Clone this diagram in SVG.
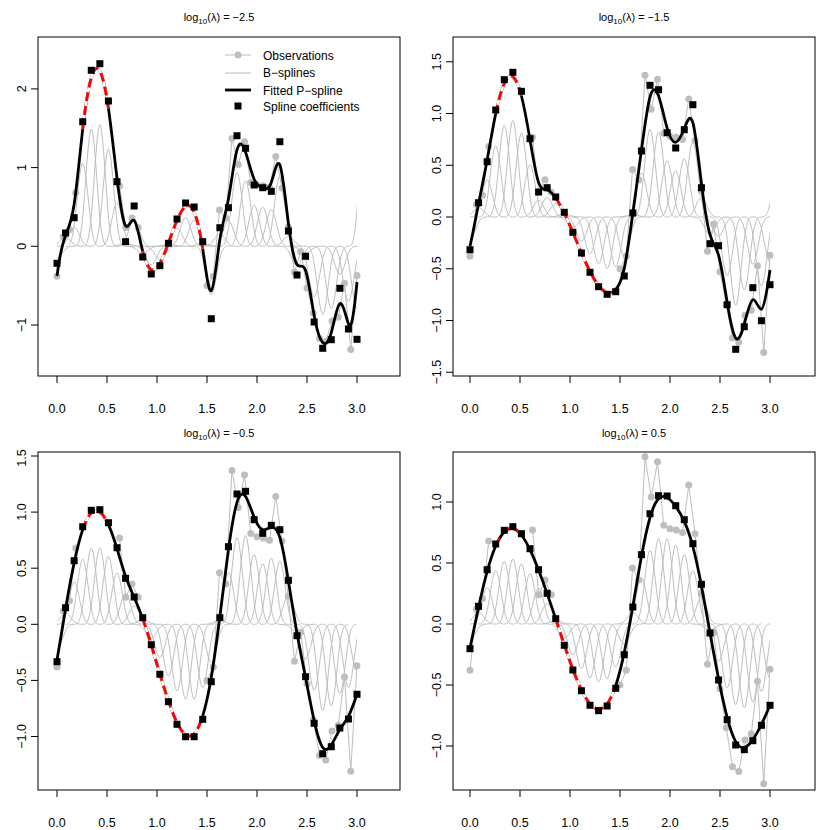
<svg xmlns="http://www.w3.org/2000/svg" xmlns:xlink="http://www.w3.org/1999/xlink" width="830" height="830" viewBox="0 0 830 830">
<style>
text{font-family:"Liberation Sans",Arial,sans-serif;fill:#000}
.tk{font-size:12.5px}
.ti{font-size:11px}
.lg{font-size:12px}
.fr{fill:none;stroke:#000;stroke-width:1}
.bs{fill:none;stroke:#bebebe;stroke-width:1;vector-effect:non-scaling-stroke}
.fit{fill:none;stroke:#000;stroke-width:2.8;stroke-linejoin:round;vector-effect:non-scaling-stroke}
.wh{fill:none;stroke:#fff;stroke-width:2.8;stroke-linejoin:round;vector-effect:non-scaling-stroke}
.red{fill:none;stroke:#f00;stroke-width:2.8;stroke-dasharray:9 5;vector-effect:non-scaling-stroke}
.ol{fill:none;stroke:#bebebe;stroke-width:1;vector-effect:non-scaling-stroke}
.od{fill:none;stroke:#bebebe;stroke-width:7;stroke-linecap:round;vector-effect:non-scaling-stroke}
</style>
<defs>
<path id="b" class="bs" d="M-2,0 C-1.667,0 -1.333,0 -1,0.1667 C-0.667,0.3333 -0.333,0.6667 0,0.6667 C0.333,0.6667 0.667,0.3333 1,0.1667 C1.333,0 1.667,0 2,0"/>
<rect id="s" x="-0.408" y="-3.5" width="0.817" height="7" fill="#000"/>
<clipPath id="c"><rect x="0" y="0" width="35" height="830"/></clipPath>
<path id="obsL" class="ol" d="M0,-0.38 L0.0625,0.12 L0.125,0.21 L0.1875,0.68 M0.625,0.77 L0.6875,0.24 L0.75,0.36 L0.8125,0.24 M1.5,-0.5 L1.5625,-0.38 L1.625,0.46 L1.6875,0.36 L1.75,1.37 L1.8125,1.04 L1.875,1.33 L1.9375,0.81 L2,0.78 L2.0625,0.77 L2.125,0.75 L2.1875,1.14 L2.25,0.74 L2.3125,0.25 L2.375,-0.33 L2.4375,-0.07 L2.5,-0.53 L2.5625,-0.85 L2.625,-1.17 L2.6875,-1.21 L2.75,-0.95 L2.8125,-0.9 L2.875,-0.47 L2.9375,-1.31 L3,-0.37"/>
<path id="obsD" class="od" d="M0,-0.38h0 M0.0625,0.12h0 M0.125,0.21h0 M0.1875,0.68h0 M0.625,0.77h0 M0.6875,0.24h0 M0.75,0.36h0 M0.8125,0.24h0 M1.5,-0.5h0 M1.5625,-0.38h0 M1.625,0.46h0 M1.6875,0.36h0 M1.75,1.37h0 M1.8125,1.04h0 M1.875,1.33h0 M1.9375,0.81h0 M2,0.78h0 M2.0625,0.77h0 M2.125,0.75h0 M2.1875,1.14h0 M2.25,0.74h0 M2.3125,0.25h0 M2.375,-0.33h0 M2.4375,-0.07h0 M2.5,-0.53h0 M2.5625,-0.85h0 M2.625,-1.17h0 M2.6875,-1.21h0 M2.75,-0.95h0 M2.8125,-0.9h0 M2.875,-0.47h0 M2.9375,-1.31h0 M3,-0.37h0"/>
</defs>

<g id="panel1">
<rect class="fr" x="38" y="37" width="362" height="339"/>
<text class="ti" x="219" y="21" text-anchor="middle">log<tspan font-size="8" dy="3">10</tspan><tspan dy="-3">(λ) = −2.5</tspan></text>
<path class="fr" d="M57,376v7M107,376v7M157,376v7M207,376v7M257,376v7M307,376v7M357,376v7M38,88.9h-7M38,167.6h-7M38,246.3h-7M38,325h-7"/>
<g class="tk" text-anchor="middle"><text x="57" y="413">0.0</text><text x="107" y="413">0.5</text><text x="157" y="413">1.0</text><text x="207" y="413">1.5</text><text x="257" y="413">2.0</text><text x="307" y="413">2.5</text><text x="357" y="413">3.0</text>
<text transform="translate(26,88.9) rotate(-90)">2</text><text transform="translate(26,167.6) rotate(-90)">1</text><text transform="translate(26,246.3) rotate(-90)">0</text><text transform="translate(26,325) rotate(-90)">−1</text></g>
<use href="#obsL" transform="translate(57,246.3) scale(100,-78.7)"/>
<use href="#obsD" transform="translate(57,246.3) scale(100,-78.7)"/>
<g transform="translate(57,0) scale(8.5714,1)">
<g clip-path="url(#c)">
<use href="#b" transform="translate(0,246.3) scale(1,17)"/><use href="#b" transform="translate(1,246.3) scale(1,-13.3)"/><use href="#b" transform="translate(2,246.3) scale(1,-28.6)"/><use href="#b" transform="translate(3,246.3) scale(1,-124.6)"/><use href="#b" transform="translate(4,246.3) scale(1,-176)"/><use href="#b" transform="translate(5,246.3) scale(1,-182.6)"/><use href="#b" transform="translate(6,246.3) scale(1,-145.3)"/><use href="#b" transform="translate(7,246.3) scale(1,-64.6)"/><use href="#b" transform="translate(8,246.3) scale(1,-4.6)"/><use href="#b" transform="translate(9,246.3) scale(1,-40.3)"/><use href="#b" transform="translate(10,246.3) scale(1,10.7)"/><use href="#b" transform="translate(11,246.3) scale(1,27.7)"/><use href="#b" transform="translate(12,246.3) scale(1,19.4)"/><use href="#b" transform="translate(13,246.3) scale(1,-3)"/><use href="#b" transform="translate(14,246.3) scale(1,-27.3)"/><use href="#b" transform="translate(15,246.3) scale(1,-43.3)"/><use href="#b" transform="translate(16,246.3) scale(1,-39.3)"/><use href="#b" transform="translate(17,246.3) scale(1,-4.6)"/><use href="#b" transform="translate(18,246.3) scale(1,72.4)"/><use href="#b" transform="translate(19,246.3) scale(1,-18.6)"/><use href="#b" transform="translate(20,246.3) scale(1,-38.6)"/><use href="#b" transform="translate(21,246.3) scale(1,-110.6)"/><use href="#b" transform="translate(22,246.3) scale(1,-98)"/><use href="#b" transform="translate(23,246.3) scale(1,-61.3)"/><use href="#b" transform="translate(24,246.3) scale(1,-58.6)"/><use href="#b" transform="translate(25,246.3) scale(1,-55)"/><use href="#b" transform="translate(26,246.3) scale(1,-104.6)"/><use href="#b" transform="translate(27,246.3) scale(1,-15.3)"/><use href="#b" transform="translate(28,246.3) scale(1,28.7)"/><use href="#b" transform="translate(29,246.3) scale(1,10)"/><use href="#b" transform="translate(30,246.3) scale(1,75.7)"/><use href="#b" transform="translate(31,246.3) scale(1,102)"/><use href="#b" transform="translate(32,246.3) scale(1,93.4)"/><use href="#b" transform="translate(33,246.3) scale(1,42)"/><use href="#b" transform="translate(34,246.3) scale(1,82.7)"/><use href="#b" transform="translate(35,246.3) scale(1,93)"/><use href="#b" transform="translate(36,246.3) scale(1,-220)"/>
</g>
<path class="fit" d="M0,276 C0.333,253.2 0.667,243.1 1,235.5 C1.333,227.9 1.667,222.8 2,204.25 C2.333,185.7 2.667,153.7 3,129.1 C3.333,104.6 3.667,87.4 4,77.8 C4.333,68.1 4.667,65.9 5,71 C5.333,76.1 5.667,88.6 6,108.2 C6.333,127.9 6.667,154.8 7,178.25 C7.333,201.7 7.667,221.7 8,225.75 C8.333,229.8 8.667,217.9 9,220.45 C9.333,223 9.667,240 10,251.3 C10.333,262.7 10.667,268.3 11,269.8 C11.333,271.2 11.667,268.5 12,263.35 C12.333,258.2 12.667,250.8 13,243 C13.333,235.2 13.667,227.1 14,220.4 C14.333,213.7 14.667,208.3 15,206.3 C15.333,204.3 15.667,205.7 16,212.1 C16.333,218.6 16.667,230.1 17,248.75 C17.333,267.4 17.667,293 18,290.7 C18.333,288.4 18.667,258 19,239.5 C19.333,221 19.667,214.4 20,199 C20.333,183.7 20.667,159.7 21,149.8 C21.333,139.9 21.667,144.1 22,152.3 C22.333,160.5 22.667,172.8 23,179.3 C23.333,185.9 23.667,186.8 24,187.85 C24.333,188.9 24.667,190.1 25,182.4 C25.333,174.8 25.667,158.2 26,164.85 C26.333,171.5 26.667,201.2 27,223.45 C27.333,245.7 27.667,260.3 28,264.55 C28.333,268.8 28.667,262.5 29,270.4 C29.333,278.2 29.667,300.1 30,315.4 C30.333,330.8 30.667,339.5 31,342.5 C31.333,345.4 31.667,342.6 32,332.6 C32.333,322.6 32.667,305.4 33,303.65 C33.333,301.9 33.667,315.4 34,323.9 C34.333,333 34.667,312 35,282"/>
<path class="wh" d="M3,129.1 C3.333,104.6 3.667,87.4 4,77.8 C4.333,68.1 4.667,65.9 5,71 C5.333,76.1 5.667,88.6 6,108.2"/><path class="red" d="M3,129.1 C3.333,104.6 3.667,87.4 4,77.8 C4.333,68.1 4.667,65.9 5,71 C5.333,76.1 5.667,88.6 6,108.2"/>
<path class="wh" d="M10,251.3 C10.333,262.7 10.667,268.3 11,269.8 C11.333,271.2 11.667,268.5 12,263.35 C12.333,258.2 12.667,250.8 13,243 C13.333,235.2 13.667,227.1 14,220.4 C14.333,213.7 14.667,208.3 15,206.3 C15.333,204.3 15.667,205.7 16,212.1 C16.333,218.6 16.667,230.1 17,248.75"/><path class="red" d="M10,251.3 C10.333,262.7 10.667,268.3 11,269.8 C11.333,271.2 11.667,268.5 12,263.35 C12.333,258.2 12.667,250.8 13,243 C13.333,235.2 13.667,227.1 14,220.4 C14.333,213.7 14.667,208.3 15,206.3 C15.333,204.3 15.667,205.7 16,212.1 C16.333,218.6 16.667,230.1 17,248.75"/>
<use href="#s" x="0" y="263.3"/><use href="#s" x="1" y="233"/><use href="#s" x="2" y="217.7"/><use href="#s" x="3" y="121.7"/><use href="#s" x="4" y="70.3"/><use href="#s" x="5" y="63.7"/><use href="#s" x="6" y="101"/><use href="#s" x="7" y="181.7"/><use href="#s" x="8" y="241.7"/><use href="#s" x="9" y="206"/><use href="#s" x="10" y="257"/><use href="#s" x="11" y="274"/><use href="#s" x="12" y="265.7"/><use href="#s" x="13" y="243.3"/><use href="#s" x="14" y="219"/><use href="#s" x="15" y="203"/><use href="#s" x="16" y="207"/><use href="#s" x="17" y="241.7"/><use href="#s" x="18" y="318.7"/><use href="#s" x="19" y="227.7"/><use href="#s" x="20" y="207.7"/><use href="#s" x="21" y="135.7"/><use href="#s" x="22" y="148.3"/><use href="#s" x="23" y="185"/><use href="#s" x="24" y="187.7"/><use href="#s" x="25" y="191.3"/><use href="#s" x="26" y="141.7"/><use href="#s" x="27" y="231"/><use href="#s" x="28" y="275"/><use href="#s" x="29" y="256.3"/><use href="#s" x="30" y="322"/><use href="#s" x="31" y="348.3"/><use href="#s" x="32" y="339.7"/><use href="#s" x="33" y="288.3"/><use href="#s" x="34" y="329"/><use href="#s" x="35" y="339.3"/>
</g>
</g>

<g id="legend">
<path d="M225,55h26" stroke="#bebebe" stroke-width="1"/><circle cx="238" cy="55" r="3.5" fill="#bebebe"/>
<path d="M225,73h26" stroke="#bebebe" stroke-width="1"/>
<path d="M225,90h26" stroke="#000" stroke-width="2.8"/>
<rect x="234.5" y="102.5" width="7" height="7" fill="#000"/>
<g class="lg"><text x="263" y="59.5">Observations</text><text x="263" y="77">B−splines</text><text x="263" y="94.5">Fitted P−spline</text><text x="263" y="110.5">Spline coefficients</text></g>
</g>

<g id="panel2">
<rect class="fr" x="453" y="37" width="362" height="339"/>
<text class="ti" x="634" y="21" text-anchor="middle">log<tspan font-size="8" dy="3">10</tspan><tspan dy="-3">(λ) = −1.5</tspan></text>
<path class="fr" d="M470,376v7M520,376v7M570,376v7M620,376v7M670,376v7M720,376v7M770,376v7M453,61.75h-7M453,113.5h-7M453,165.25h-7M453,217h-7M453,268.75h-7M453,320.5h-7M453,372.25h-7"/>
<g class="tk" text-anchor="middle"><text x="470" y="413">0.0</text><text x="520" y="413">0.5</text><text x="570" y="413">1.0</text><text x="620" y="413">1.5</text><text x="670" y="413">2.0</text><text x="720" y="413">2.5</text><text x="770" y="413">3.0</text>
<text transform="translate(441,61.75) rotate(-90)">1.5</text><text transform="translate(441,113.5) rotate(-90)">1.0</text><text transform="translate(441,165.25) rotate(-90)">0.5</text><text transform="translate(441,217) rotate(-90)">0.0</text><text transform="translate(441,268.75) rotate(-90)">−0.5</text><text transform="translate(441,320.5) rotate(-90)">−1.0</text><text transform="translate(441,372.25) rotate(-90)">−1.5</text></g>
<use href="#obsL" transform="translate(470,217) scale(100,-103.5)"/>
<use href="#obsD" transform="translate(470,217) scale(100,-103.5)"/>
<g transform="translate(470,0) scale(8.5714,1)">
<g clip-path="url(#c)">
<use href="#b" transform="translate(0,217) scale(1,32.7)"/><use href="#b" transform="translate(1,217) scale(1,-14.3)"/><use href="#b" transform="translate(2,217) scale(1,-55.3)"/><use href="#b" transform="translate(3,217) scale(1,-107)"/><use href="#b" transform="translate(4,217) scale(1,-137.3)"/><use href="#b" transform="translate(5,217) scale(1,-144.7)"/><use href="#b" transform="translate(6,217) scale(1,-125.7)"/><use href="#b" transform="translate(7,217) scale(1,-78.3)"/><use href="#b" transform="translate(8,217) scale(1,-25)"/><use href="#b" transform="translate(9,217) scale(1,-29.3)"/><use href="#b" transform="translate(10,217) scale(1,-20)"/><use href="#b" transform="translate(11,217) scale(1,-4.7)"/><use href="#b" transform="translate(12,217) scale(1,15.3)"/><use href="#b" transform="translate(13,217) scale(1,36)"/><use href="#b" transform="translate(14,217) scale(1,55.3)"/><use href="#b" transform="translate(15,217) scale(1,69.7)"/><use href="#b" transform="translate(16,217) scale(1,77.3)"/><use href="#b" transform="translate(17,217) scale(1,74.7)"/><use href="#b" transform="translate(18,217) scale(1,59)"/><use href="#b" transform="translate(19,217) scale(1,-4)"/><use href="#b" transform="translate(20,217) scale(1,-66)"/><use href="#b" transform="translate(21,217) scale(1,-131.7)"/><use href="#b" transform="translate(22,217) scale(1,-127.3)"/><use href="#b" transform="translate(23,217) scale(1,-84.3)"/><use href="#b" transform="translate(24,217) scale(1,-69)"/><use href="#b" transform="translate(25,217) scale(1,-87.3)"/><use href="#b" transform="translate(26,217) scale(1,-112.3)"/><use href="#b" transform="translate(27,217) scale(1,-29.3)"/><use href="#b" transform="translate(28,217) scale(1,26.7)"/><use href="#b" transform="translate(29,217) scale(1,28.7)"/><use href="#b" transform="translate(30,217) scale(1,87.7)"/><use href="#b" transform="translate(31,217) scale(1,132.3)"/><use href="#b" transform="translate(32,217) scale(1,109.7)"/><use href="#b" transform="translate(33,217) scale(1,70.7)"/><use href="#b" transform="translate(34,217) scale(1,103.7)"/><use href="#b" transform="translate(35,217) scale(1,67.7)"/><use href="#b" transform="translate(36,217) scale(1,-80)"/>
</g>
<path class="fit" d="M0,246 C0.333,234 0.667,218.4 1,203.7 C1.333,189 1.667,175.4 2,159.9 C2.333,144.5 2.667,127.2 3,113.6 C3.333,99.9 3.667,89.8 4,83.5 C4.333,77.2 4.667,74.8 5,76.7 C5.333,78.6 5.667,85 6,96 C6.333,107.1 6.667,122.9 7,139.7 C7.333,156.5 7.667,174.2 8,182.4 C8.333,190.6 8.667,189.1 9,190 C9.333,190.8 9.667,193.9 10,198 C10.333,202.1 10.667,207.2 11,213.1 C11.333,219 11.667,225.6 12,232.4 C12.333,239.2 12.667,246.1 13,252.8 C13.333,259.4 13.667,265.9 14,271.5 C14.333,277.1 14.667,281.9 15,285.6 C15.333,289.2 15.667,291.8 16,292.6 C16.333,293.4 16.667,292.6 17,289.5 C17.333,286.5 17.667,281.2 18,268.1 C18.333,255 18.667,234 19,213.2 C19.333,192.3 19.667,171.7 20,150.4 C20.333,129.1 20.667,107.2 21,97 C21.333,86.8 21.667,88.2 22,96.1 C22.333,104 22.667,118.4 23,128.1 C23.333,137.8 23.667,142.9 24,142.4 C24.333,141.9 24.667,135.8 25,128.6 C25.333,121.4 25.667,113 26,122.7 C26.333,132.4 26.667,160.4 27,183.2 C27.333,206.4 27.667,225 28,234.7 C28.333,244.4 28.667,245 29,255.2 C29.333,265.4 29.667,285 30,302.3 C30.333,319.6 30.667,334.4 31,338.1 C31.333,341.8 31.667,334.2 32,324 C32.333,313.7 32.667,300.7 33,299.7 C33.333,298.7 33.667,309.7 34,309.2 C34.333,308 34.667,290 35,270"/>
<path class="wh" d="M3,113.6 C3.333,99.9 3.667,89.8 4,83.5 C4.333,77.2 4.667,74.8 5,76.7 C5.333,78.6 5.667,85 6,96"/><path class="red" d="M3,113.6 C3.333,99.9 3.667,89.8 4,83.5 C4.333,77.2 4.667,74.8 5,76.7 C5.333,78.6 5.667,85 6,96"/>
<path class="wh" d="M10,198 C10.333,202.1 10.667,207.2 11,213.1 C11.333,219 11.667,225.6 12,232.4 C12.333,239.2 12.667,246.1 13,252.8 C13.333,259.4 13.667,265.9 14,271.5 C14.333,277.1 14.667,281.9 15,285.6 C15.333,289.2 15.667,291.8 16,292.6 C16.333,293.4 16.667,292.6 17,289.5"/><path class="red" d="M10,198 C10.333,202.1 10.667,207.2 11,213.1 C11.333,219 11.667,225.6 12,232.4 C12.333,239.2 12.667,246.1 13,252.8 C13.333,259.4 13.667,265.9 14,271.5 C14.333,277.1 14.667,281.9 15,285.6 C15.333,289.2 15.667,291.8 16,292.6 C16.333,293.4 16.667,292.6 17,289.5"/>
<use href="#s" x="0" y="249.7"/><use href="#s" x="1" y="202.7"/><use href="#s" x="2" y="161.7"/><use href="#s" x="3" y="110"/><use href="#s" x="4" y="79.7"/><use href="#s" x="5" y="72.3"/><use href="#s" x="6" y="91.3"/><use href="#s" x="7" y="138.7"/><use href="#s" x="8" y="192"/><use href="#s" x="9" y="187.7"/><use href="#s" x="10" y="197"/><use href="#s" x="11" y="212.3"/><use href="#s" x="12" y="232.3"/><use href="#s" x="13" y="253"/><use href="#s" x="14" y="272.3"/><use href="#s" x="15" y="286.7"/><use href="#s" x="16" y="294.3"/><use href="#s" x="17" y="291.7"/><use href="#s" x="18" y="276"/><use href="#s" x="19" y="213"/><use href="#s" x="20" y="151"/><use href="#s" x="21" y="85.3"/><use href="#s" x="22" y="89.7"/><use href="#s" x="23" y="132.7"/><use href="#s" x="24" y="148"/><use href="#s" x="25" y="129.7"/><use href="#s" x="26" y="104.7"/><use href="#s" x="27" y="187.7"/><use href="#s" x="28" y="243.7"/><use href="#s" x="29" y="245.7"/><use href="#s" x="30" y="304.7"/><use href="#s" x="31" y="349.3"/><use href="#s" x="32" y="326.7"/><use href="#s" x="33" y="287.7"/><use href="#s" x="34" y="320.7"/><use href="#s" x="35" y="284.7"/>
</g>
</g>

<g id="panel3">
<rect class="fr" x="38" y="452" width="362" height="338"/>
<text class="ti" x="219" y="437" text-anchor="middle">log<tspan font-size="8" dy="3">10</tspan><tspan dy="-3">(λ) = −0.5</tspan></text>
<path class="fr" d="M57,790v7M107,790v7M157,790v7M207,790v7M257,790v7M307,790v7M357,790v7M38,456h-7M38,512.1h-7M38,568.2h-7M38,624.3h-7M38,680.4h-7M38,736.5h-7"/>
<g class="tk" text-anchor="middle"><text x="57" y="827">0.0</text><text x="107" y="827">0.5</text><text x="157" y="827">1.0</text><text x="207" y="827">1.5</text><text x="257" y="827">2.0</text><text x="307" y="827">2.5</text><text x="357" y="827">3.0</text>
<text transform="translate(26,458) rotate(-90)">1.5</text><text transform="translate(26,512.1) rotate(-90)">1.0</text><text transform="translate(26,568.2) rotate(-90)">0.5</text><text transform="translate(26,624.3) rotate(-90)">0.0</text><text transform="translate(26,680.4) rotate(-90)">−0.5</text><text transform="translate(26,736.5) rotate(-90)">−1.0</text></g>
<use href="#obsL" transform="translate(57,624.3) scale(100,-112.2)"/>
<use href="#obsD" transform="translate(57,624.3) scale(100,-112.2)"/>
<g transform="translate(57,0) scale(8.5714,1)">
<g clip-path="url(#c)">
<use href="#b" transform="translate(0,624.3) scale(1,37.4)"/><use href="#b" transform="translate(1,624.3) scale(1,-16.6)"/><use href="#b" transform="translate(2,624.3) scale(1,-63.6)"/><use href="#b" transform="translate(3,624.3) scale(1,-97.6)"/><use href="#b" transform="translate(4,624.3) scale(1,-114)"/><use href="#b" transform="translate(5,624.3) scale(1,-114.6)"/><use href="#b" transform="translate(6,624.3) scale(1,-101.6)"/><use href="#b" transform="translate(7,624.3) scale(1,-76.6)"/><use href="#b" transform="translate(8,624.3) scale(1,-46)"/><use href="#b" transform="translate(9,624.3) scale(1,-27.3)"/><use href="#b" transform="translate(10,624.3) scale(1,-6.6)"/><use href="#b" transform="translate(11,624.3) scale(1,20.4)"/><use href="#b" transform="translate(12,624.3) scale(1,50)"/><use href="#b" transform="translate(13,624.3) scale(1,77.4)"/><use href="#b" transform="translate(14,624.3) scale(1,100)"/><use href="#b" transform="translate(15,624.3) scale(1,112.4)"/><use href="#b" transform="translate(16,624.3) scale(1,112.4)"/><use href="#b" transform="translate(17,624.3) scale(1,95)"/><use href="#b" transform="translate(18,624.3) scale(1,57.4)"/><use href="#b" transform="translate(19,624.3) scale(1,-6.6)"/><use href="#b" transform="translate(20,624.3) scale(1,-77.6)"/><use href="#b" transform="translate(21,624.3) scale(1,-130.3)"/><use href="#b" transform="translate(22,624.3) scale(1,-133)"/><use href="#b" transform="translate(23,624.3) scale(1,-104.6)"/><use href="#b" transform="translate(24,624.3) scale(1,-91)"/><use href="#b" transform="translate(25,624.3) scale(1,-99)"/><use href="#b" transform="translate(26,624.3) scale(1,-94.6)"/><use href="#b" transform="translate(27,624.3) scale(1,-44)"/><use href="#b" transform="translate(28,624.3) scale(1,11.4)"/><use href="#b" transform="translate(29,624.3) scale(1,52.4)"/><use href="#b" transform="translate(30,624.3) scale(1,99)"/><use href="#b" transform="translate(31,624.3) scale(1,129.4)"/><use href="#b" transform="translate(32,624.3) scale(1,122.4)"/><use href="#b" transform="translate(33,624.3) scale(1,103.7)"/><use href="#b" transform="translate(34,624.3) scale(1,94.7)"/><use href="#b" transform="translate(35,624.3) scale(1,70)"/>
</g>
<path class="fit" d="M0,660 C0.333,643.7 0.667,625.7 1,608.9 C1.333,592 1.667,576.4 2,562.9 C2.333,549.4 2.667,538 3,529.6 C3.333,521.2 3.667,515.8 4,512.9 C4.333,510.1 4.667,509.9 5,512 C5.333,514 5.667,518.4 6,524.7 C6.333,531 6.667,539.4 7,548.6 C7.333,557.9 7.667,568.1 8,576.3 C8.333,584.5 8.667,590.8 9,597.3 C9.333,603.9 9.667,610.8 10,618.75 C10.333,626.7 10.667,635.7 11,645.1 C11.333,654.6 11.667,664.4 12,673.9 C12.333,683.4 12.667,692.6 13,700.9 C13.333,709.2 13.667,716.8 14,722.6 C14.333,728.4 14.667,732.6 15,734.6 C15.333,736.7 15.667,736.7 16,733.8 C16.333,730.9 16.667,725.1 17,715.9 C17.333,706.8 17.667,694.2 18,677.3 C18.333,660.4 18.667,639 19,616.5 C19.333,594 19.667,570.4 20,549.75 C20.333,529.1 20.667,511.6 21,502.3 C21.333,493.1 21.667,492.2 22,496.5 C22.333,500.8 22.667,510.2 23,517.2 C23.333,524.2 23.667,528.8 24,529.7 C24.333,530.6 24.667,528 25,527.4 C25.333,526.8 25.667,528.2 26,537.4 C26.333,546.6 26.667,563.4 27,581.1 C27.333,598.8 27.667,617.2 28,633.3 C28.333,649.4 28.667,663 29,677.6 C29.333,692.2 29.667,707.8 30,720.6 C30.333,733.4 30.667,743.6 31,747.5 C31.333,751.4 31.667,749 32,744.75 C32.333,740.5 32.667,734.2 33,729.6 C33.333,725 33.667,722 34,716.4 C34.333,710.8 34.667,702.5 35,694.3"/>
<path class="wh" d="M3,529.6 C3.333,521.2 3.667,515.8 4,512.9 C4.333,510.1 4.667,509.9 5,512 C5.333,514 5.667,518.4 6,524.7"/><path class="red" d="M3,529.6 C3.333,521.2 3.667,515.8 4,512.9 C4.333,510.1 4.667,509.9 5,512 C5.333,514 5.667,518.4 6,524.7"/>
<path class="wh" d="M10,618.75 C10.333,626.7 10.667,635.7 11,645.1 C11.333,654.6 11.667,664.4 12,673.9 C12.333,683.4 12.667,692.6 13,700.9 C13.333,709.2 13.667,716.8 14,722.6 C14.333,728.4 14.667,732.6 15,734.6 C15.333,736.7 15.667,736.7 16,733.8 C16.333,730.9 16.667,725.1 17,715.9"/><path class="red" d="M10,618.75 C10.333,626.7 10.667,635.7 11,645.1 C11.333,654.6 11.667,664.4 12,673.9 C12.333,683.4 12.667,692.6 13,700.9 C13.333,709.2 13.667,716.8 14,722.6 C14.333,728.4 14.667,732.6 15,734.6 C15.333,736.7 15.667,736.7 16,733.8 C16.333,730.9 16.667,725.1 17,715.9"/>
<use href="#s" x="0" y="661.7"/><use href="#s" x="1" y="607.7"/><use href="#s" x="2" y="560.7"/><use href="#s" x="3" y="526.7"/><use href="#s" x="4" y="510.3"/><use href="#s" x="5" y="509.7"/><use href="#s" x="6" y="522.7"/><use href="#s" x="7" y="547.7"/><use href="#s" x="8" y="578.3"/><use href="#s" x="9" y="597"/><use href="#s" x="10" y="617.7"/><use href="#s" x="11" y="644.7"/><use href="#s" x="12" y="674.3"/><use href="#s" x="13" y="701.7"/><use href="#s" x="14" y="724.3"/><use href="#s" x="15" y="736.7"/><use href="#s" x="16" y="736.7"/><use href="#s" x="17" y="719.3"/><use href="#s" x="18" y="681.7"/><use href="#s" x="19" y="617.7"/><use href="#s" x="20" y="546.7"/><use href="#s" x="21" y="494"/><use href="#s" x="22" y="491.3"/><use href="#s" x="23" y="519.7"/><use href="#s" x="24" y="533.3"/><use href="#s" x="25" y="525.3"/><use href="#s" x="26" y="529.7"/><use href="#s" x="27" y="580.3"/><use href="#s" x="28" y="635.7"/><use href="#s" x="29" y="676.7"/><use href="#s" x="30" y="723.3"/><use href="#s" x="31" y="753.7"/><use href="#s" x="32" y="746.7"/><use href="#s" x="33" y="728"/><use href="#s" x="34" y="719"/><use href="#s" x="35" y="694.3"/>
</g>
</g>

<g id="panel4">
<rect class="fr" x="453" y="452" width="362" height="338"/>
<text class="ti" x="634" y="437" text-anchor="middle">log<tspan font-size="8" dy="3">10</tspan><tspan dy="-3">(λ) = 0.5</tspan></text>
<path class="fr" d="M470,790v7M520,790v7M570,790v7M620,790v7M670,790v7M720,790v7M770,790v7M453,502h-7M453,563h-7M453,624h-7M453,685h-7M453,746h-7"/>
<g class="tk" text-anchor="middle"><text x="470" y="827">0.0</text><text x="520" y="827">0.5</text><text x="570" y="827">1.0</text><text x="620" y="827">1.5</text><text x="670" y="827">2.0</text><text x="720" y="827">2.5</text><text x="770" y="827">3.0</text>
<text transform="translate(441,502) rotate(-90)">1.0</text><text transform="translate(441,563) rotate(-90)">0.5</text><text transform="translate(441,624) rotate(-90)">0.0</text><text transform="translate(441,685) rotate(-90)">−0.5</text><text transform="translate(441,746) rotate(-90)">−1.0</text></g>
<use href="#obsL" transform="translate(470,624) scale(100,-122)"/>
<use href="#obsD" transform="translate(470,624) scale(100,-122)"/>
<g transform="translate(470,0) scale(8.5714,1)">
<g clip-path="url(#c)">
<use href="#b" transform="translate(0,624) scale(1,24.7)"/><use href="#b" transform="translate(1,624) scale(1,-17.7)"/><use href="#b" transform="translate(2,624) scale(1,-54.3)"/><use href="#b" transform="translate(3,624) scale(1,-80)"/><use href="#b" transform="translate(4,624) scale(1,-93.7)"/><use href="#b" transform="translate(5,624) scale(1,-97.3)"/><use href="#b" transform="translate(6,624) scale(1,-90.3)"/><use href="#b" transform="translate(7,624) scale(1,-75.3)"/><use href="#b" transform="translate(8,624) scale(1,-54.3)"/><use href="#b" transform="translate(9,624) scale(1,-30.7)"/><use href="#b" transform="translate(10,624) scale(1,-5.3)"/><use href="#b" transform="translate(11,624) scale(1,21.3)"/><use href="#b" transform="translate(12,624) scale(1,46)"/><use href="#b" transform="translate(13,624) scale(1,66.7)"/><use href="#b" transform="translate(14,624) scale(1,81.3)"/><use href="#b" transform="translate(15,624) scale(1,86.7)"/><use href="#b" transform="translate(16,624) scale(1,82)"/><use href="#b" transform="translate(17,624) scale(1,64.3)"/><use href="#b" transform="translate(18,624) scale(1,30.7)"/><use href="#b" transform="translate(19,624) scale(1,-17)"/><use href="#b" transform="translate(20,624) scale(1,-69.3)"/><use href="#b" transform="translate(21,624) scale(1,-110.3)"/><use href="#b" transform="translate(22,624) scale(1,-128.3)"/><use href="#b" transform="translate(23,624) scale(1,-128)"/><use href="#b" transform="translate(24,624) scale(1,-118.3)"/><use href="#b" transform="translate(25,624) scale(1,-104.3)"/><use href="#b" transform="translate(26,624) scale(1,-80.3)"/><use href="#b" transform="translate(27,624) scale(1,-39.7)"/><use href="#b" transform="translate(28,624) scale(1,9)"/><use href="#b" transform="translate(29,624) scale(1,56)"/><use href="#b" transform="translate(30,624) scale(1,95.7)"/><use href="#b" transform="translate(31,624) scale(1,121)"/><use href="#b" transform="translate(32,624) scale(1,125.7)"/><use href="#b" transform="translate(33,624) scale(1,116.7)"/><use href="#b" transform="translate(34,624) scale(1,101.3)"/><use href="#b" transform="translate(35,624) scale(1,81.3)"/>
</g>
<path class="fit" d="M0,648 C0.333,634.6 0.667,620.4 1,607.3 C1.333,594.1 1.667,581.9 2,571.5 C2.333,561.1 2.667,552.6 3,546 C3.333,539.4 3.667,534.9 4,532 C4.333,529.1 4.667,527.9 5,528.5 C5.333,529 5.667,531.4 6,535 C6.333,538.7 6.667,543.7 7,549.7 C7.333,555.7 7.667,562.7 8,570.1 C8.333,577.6 8.667,585.4 9,593.6 C9.333,601.8 9.667,610.2 10,618.9 C10.333,627.6 10.667,636.4 11,645 C11.333,653.5 11.667,661.8 12,669.3 C12.333,676.9 12.667,683.8 13,689.7 C13.333,695.6 13.667,700.4 14,703.8 C14.333,707.1 14.667,708.9 15,709 C15.333,709.1 15.667,707.6 16,703.8 C16.333,700.1 16.667,694.2 17,685.65 C17.333,677.1 17.667,666 18,652.35 C18.333,638.8 18.667,622.9 19,606.2 C19.333,589.6 19.667,572.1 20,556.6 C20.333,541 20.667,527.4 21,517.5 C21.333,507.7 21.667,501.7 22,498.75 C22.333,495.8 22.667,495.9 23,497.6 C23.333,499.2 23.667,502.5 24,506.4 C24.333,510.4 24.667,515 25,521.4 C25.333,527.7 25.667,535.7 26,546.5 C26.333,557.2 26.667,570.8 27,585.65 C27.333,600.5 27.667,616.8 28,632.7 C28.333,648.7 28.667,664.3 29,678.8 C29.333,693.2 29.667,706.5 30,717.3 C30.333,728.1 30.667,736.6 31,741.6 C31.333,746.6 31.667,748.1 32,747.4 C32.333,746.7 32.667,743.7 33,739.6 C33.333,735.6 33.667,730.4 34,724.5 C34.333,718.6 34.667,712 35,705.3"/>
<path class="red" d="M3,546 C3.333,539.4 3.667,534.9 4,532 C4.333,529.1 4.667,527.9 5,528.5 C5.333,529 5.667,531.4 6,535"/>
<path class="wh" d="M10,618.9 C10.333,627.6 10.667,636.4 11,645 C11.333,653.5 11.667,661.8 12,669.3 C12.333,676.9 12.667,683.8 13,689.7 C13.333,695.6 13.667,700.4 14,703.8 C14.333,707.1 14.667,708.9 15,709 C15.333,709.1 15.667,707.6 16,703.8 C16.333,700.1 16.667,694.2 17,685.65"/><path class="red" d="M10,618.9 C10.333,627.6 10.667,636.4 11,645 C11.333,653.5 11.667,661.8 12,669.3 C12.333,676.9 12.667,683.8 13,689.7 C13.333,695.6 13.667,700.4 14,703.8 C14.333,707.1 14.667,708.9 15,709 C15.333,709.1 15.667,707.6 16,703.8 C16.333,700.1 16.667,694.2 17,685.65"/>
<use href="#s" x="0" y="648.7"/><use href="#s" x="1" y="606.3"/><use href="#s" x="2" y="569.7"/><use href="#s" x="3" y="544"/><use href="#s" x="4" y="530.3"/><use href="#s" x="5" y="526.7"/><use href="#s" x="6" y="533.7"/><use href="#s" x="7" y="548.7"/><use href="#s" x="8" y="569.7"/><use href="#s" x="9" y="593.3"/><use href="#s" x="10" y="618.7"/><use href="#s" x="11" y="645.3"/><use href="#s" x="12" y="670"/><use href="#s" x="13" y="690.7"/><use href="#s" x="14" y="705.3"/><use href="#s" x="15" y="710.7"/><use href="#s" x="16" y="706"/><use href="#s" x="17" y="688.3"/><use href="#s" x="18" y="654.7"/><use href="#s" x="19" y="607"/><use href="#s" x="20" y="554.7"/><use href="#s" x="21" y="513.7"/><use href="#s" x="22" y="495.7"/><use href="#s" x="23" y="496"/><use href="#s" x="24" y="505.7"/><use href="#s" x="25" y="519.7"/><use href="#s" x="26" y="543.7"/><use href="#s" x="27" y="584.3"/><use href="#s" x="28" y="633"/><use href="#s" x="29" y="680"/><use href="#s" x="30" y="719.7"/><use href="#s" x="31" y="745"/><use href="#s" x="32" y="749.7"/><use href="#s" x="33" y="740.7"/><use href="#s" x="34" y="725.3"/><use href="#s" x="35" y="705.3"/>
</g>
</g>
</svg>
